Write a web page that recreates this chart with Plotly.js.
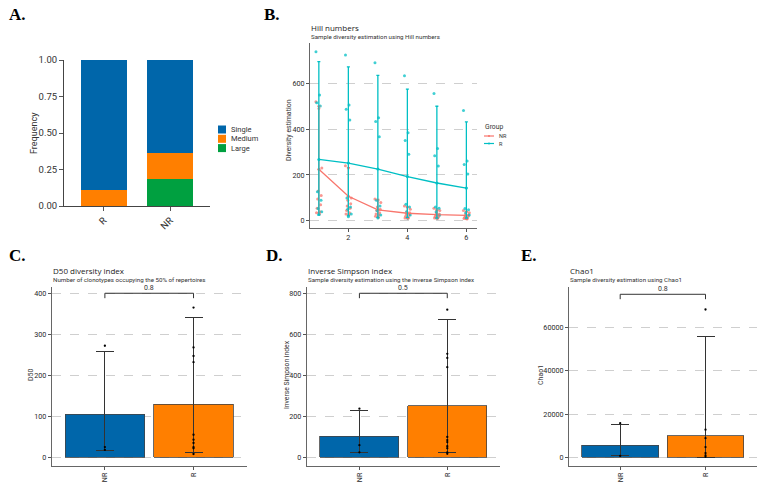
<!DOCTYPE html>
<html><head><meta charset="utf-8">
<script src="https://cdn.plot.ly/plotly-3.0.1.min.js"></script>
<style>html,body{margin:0;padding:0;background:#fff}#chart{width:766px;height:483px}</style>
</head><body><div id="chart"></div>
<script>
// ---- Panel A: clonal space frequencies ----
const stackCats = ['R', 'NR'];
const singleFreq = [0.889, 0.636];
const mediumFreq = [0.111, 0.182];
const largeFreq = [0, 0.182];

// ---- Panel B: Hill numbers ----
const hillOrder = [1, 2, 3, 4, 5, 6];
const rMean = [268, 252, 226, 193, 165, 143];
const rUpper = [695, 672, 635, 575, 500, 432];
const rLower = [25, 22, 15, 15, 12, 12];
const nrMean = [225, 107, 48, 33, 27, 24];
const nrUpper = [500, 232, 93, 60, 45, 40];
const nrLower = [35, 25, 15, 12, 10, 8];
const rPoints = [
  [738, 549, 515, 501, 127, 90, 54, 40, 29],
  [724, 505, 487, 440, 100, 60, 50, 30, 18],
  [690, 450, 433, 367, 90, 65, 45, 25, 12],
  [633, 384, 350, 291, 72, 60, 40, 25, 12],
  [556, 316, 284, 239, 60, 55, 40, 25, 12],
  [481, 261, 246, 204, 54, 48, 35, 25, 12]
];
const nrPoints = [
  [520, 490, 230, 130, 110, 95, 70, 55, 40, 35, 30],
  [240, 230, 100, 90, 75, 65, 55, 45, 35, 30, 25],
  [95, 90, 80, 60, 50, 45, 35, 30, 25, 20, 15],
  [65, 60, 50, 40, 35, 30, 25, 20, 15, 12, 10],
  [55, 50, 45, 35, 30, 25, 20, 18, 15, 12, 10],
  [45, 40, 35, 30, 25, 22, 20, 15, 12, 10, 8]
];

// ---- Panels C, D, E: group bars ----
const groups = ['NR', 'R'];
const d50Mean = [105, 129];
const d50Upper = [258, 341];
const d50Lower = [17, 12];
const d50NR = [272, 25, 18];
const d50R = [365, 268, 247, 232, 55, 43, 35, 25, 22, 8];

const invSimpMean = [104, 251];
const invSimpUpper = [228, 671];
const invSimpLower = [25, 22];
const invSimpNR = [238, 60, 25];
const invSimpR = [720, 505, 485, 440, 100, 85, 75, 55, 45, 25, 18];

const chaoMean = [5600, 9900];
const chaoUpper = [15100, 55800];
const chaoLower = [700, 200];
const chaoNR = [15800, 700];
const chaoR = [68200, 12800, 8900, 4800, 2000, 1000, 300];

const pValues = ['0.8', '0.5', '0.8'];
const bracketY = [400, 800, 75200];

// ---- styles ----
const BLUE = '#0066AA', ORANGE = '#FF7F00', GREEN = '#00A040';
const CYAN = '#00BFC4', SALMON = '#F8766D';
const F = 'Roboto, "DejaVu Sans", sans-serif';
const W = 766, H = 483;
const px = v => v / W, py = v => 1 - v / H;

const traces = [];
// Panel A stacked bars
const stackA = [
  {name: 'Large', y: largeFreq, color: GREEN},
  {name: 'Medium', y: mediumFreq, color: ORANGE},
  {name: 'Single', y: singleFreq, color: BLUE}
];
stackA.forEach(s => traces.push({type: 'bar', x: stackCats, y: s.y, name: s.name, marker: {color: s.color}, width: 0.7, xaxis: 'x', yaxis: 'y', showlegend: false}));

// Panel B
function jit(i, n) { return ((i * 5) % n - (n - 1) / 2) * (0.22 / n); }
function pointTrace(pts, color) {
  const xs = [], ys = [];
  pts.forEach((arr, k) => arr.forEach((v, i) => { xs.push(hillOrder[k] + jit(i, arr.length)); ys.push(v); }));
  return {type: 'scatter', mode: 'markers', x: xs, y: ys, marker: {color: color, size: 3, opacity: 0.75}, showlegend: false, xaxis: 'x2', yaxis: 'y2', hoverinfo: 'skip'};
}
traces.push(pointTrace(nrPoints, SALMON));
traces.push(pointTrace(rPoints, CYAN));
const groupB = [
  {name: 'NR', mean: nrMean, up: nrUpper, lo: nrLower, color: SALMON},
  {name: 'R', mean: rMean, up: rUpper, lo: rLower, color: CYAN}
];
groupB.forEach(g => traces.push({type: 'scatter', mode: 'lines+markers', x: hillOrder, y: g.mean, name: g.name,
  line: {color: g.color, width: 1.3}, marker: {color: g.color, size: 3},
  error_y: {type: 'data', symmetric: false, array: g.up.map((u, i) => u - g.mean[i]), arrayminus: g.mean.map((m, i) => m - g.lo[i]), color: g.color, thickness: 1.3, width: 1.5},
  xaxis: 'x2', yaxis: 'y2', showlegend: false}));

// Panels C, D, E
const panels = [
  {ax: '3', mean: d50Mean, up: d50Upper, lo: d50Lower, nr: d50NR, r: d50R},
  {ax: '4', mean: invSimpMean, up: invSimpUpper, lo: invSimpLower, nr: invSimpNR, r: invSimpR},
  {ax: '5', mean: chaoMean, up: chaoUpper, lo: chaoLower, nr: chaoNR, r: chaoR}
];
const dropFrac = 0.03;
panels.forEach((p, k) => {
  traces.push({type: 'bar', x: groups, y: p.mean, width: 0.9,
    marker: {color: [BLUE, ORANGE], line: {color: '#444', width: 0.8}},
    error_y: {type: 'data', symmetric: false, array: p.up.map((u, i) => u - p.mean[i]), arrayminus: p.mean.map((m, i) => m - p.lo[i]), color: '#333', thickness: 1, width: 9},
    showlegend: false, xaxis: 'x' + p.ax, yaxis: 'y' + p.ax});
  const xs = p.nr.map(() => groups[0]).concat(p.r.map(() => groups[1]));
  traces.push({type: 'scatter', mode: 'markers', x: xs, y: p.nr.concat(p.r), marker: {color: '#000', size: 2.3},
    showlegend: false, xaxis: 'x' + p.ax, yaxis: 'y' + p.ax});
  const d = bracketY[k] * dropFrac;
  traces.push({type: 'scatter', mode: 'lines', x: [groups[0], groups[0], groups[1], groups[1]],
    y: [bracketY[k] - d, bracketY[k], bracketY[k], bracketY[k] - d], line: {color: '#333', width: 1},
    showlegend: false, xaxis: 'x' + p.ax, yaxis: 'y' + p.ax, hoverinfo: 'skip'});
});

const gg = {showline: true, linecolor: '#666', linewidth: 1, ticks: 'outside', ticklen: 3, tickcolor: '#555',
  tickfont: {family: F, size: 7.2, color: '#2a2a2a'}, zeroline: false, showgrid: false, fixedrange: true};
const ggY = Object.assign({}, gg, {showgrid: true, gridcolor: '#cfcfcf', griddash: 'dash', gridwidth: 1, tickformat: 'd'});
const catX = Object.assign({}, gg, {type: 'category', tickangle: -90, range: [-0.6, 1.6]});
const yDom = [py(465.7), py(286.7)];

const layout = {
  width: W, height: H, margin: {l: 0, r: 0, t: 0, b: 0}, paper_bgcolor: '#fff', plot_bgcolor: 'rgba(0,0,0,0)',
  barmode: 'stack', showlegend: false,
  font: {family: F, color: '#333'},
  xaxis: Object.assign({}, gg, {type: 'category', domain: [px(64), px(210)], anchor: 'y', range: [-0.6, 1.6], tickangle: -45,
    linecolor: '#444', tickfont: {family: F, size: 9.5, color: '#333'}, ticklen: 4}),
  yaxis: Object.assign({}, gg, {domain: [py(206), py(60)], anchor: 'x', range: [0, 1], tickvals: [0, 0.25, 0.5, 0.75, 1], tickformat: '.2f',
    linecolor: '#444', tickfont: {family: F, size: 9.5, color: '#333'}, ticklen: 4}),
  xaxis2: Object.assign({}, gg, {domain: [px(310), px(477)], anchor: 'y2', range: [0.70, 6.36], tickvals: [2, 4, 6]}),
  yaxis2: Object.assign({}, ggY, {domain: [py(227.7), py(43)], anchor: 'x2', range: [-30, 776], tickvals: [0, 200, 400, 600]}),
  xaxis3: Object.assign({}, catX, {domain: [px(51.7), px(246.7)], anchor: 'y3'}),
  yaxis3: Object.assign({}, ggY, {domain: yDom, anchor: 'x3', range: [-20.5, 416], tickvals: [0, 100, 200, 300, 400]}),
  xaxis4: Object.assign({}, catX, {domain: [px(306.7), px(500)], anchor: 'y4'}),
  yaxis4: Object.assign({}, ggY, {domain: yDom, anchor: 'x4', range: [-40, 832], tickvals: [0, 200, 400, 600, 800]}),
  xaxis5: Object.assign({}, catX, {domain: [px(569), px(756.7)], anchor: 'y5'}),
  yaxis5: Object.assign({}, ggY, {domain: yDom, anchor: 'x5', range: [-3800, 78700], tickvals: [0, 20000, 40000, 60000]}),
  annotations: [], shapes: []
};

const A = layout.annotations, S = layout.shapes;
// Legend A (Single, Medium, Large top-down)
stackA.slice().reverse().forEach((s, i) => {
  const cy = 129.5 + i * 9.3;
  S.push({type: 'rect', xref: 'paper', yref: 'paper', x0: px(218), x1: px(226), y0: py(cy + 4), y1: py(cy - 4), fillcolor: s.color, line: {width: 0}});
  A.push({text: s.name, x: px(229), y: py(cy), xref: 'paper', yref: 'paper', xanchor: 'left', yanchor: 'middle', showarrow: false, font: {family: F, size: 7.5, color: '#333'}});
});
// Legend B
A.push({text: 'Group', x: px(483), y: py(127), xref: 'paper', yref: 'paper', xanchor: 'left', yanchor: 'middle', showarrow: false, font: {family: F, size: 6.8, color: '#333'}});
groupB.forEach((g, i) => {
  const cy = 136 + i * 7.5;
  S.push({type: 'line', xref: 'paper', yref: 'paper', x0: px(484), x1: px(494), y0: py(cy), y1: py(cy), line: {color: g.color, width: 1.2}});
  S.push({type: 'circle', xref: 'paper', yref: 'paper', x0: px(488), x1: px(490), y0: py(cy + 1), y1: py(cy - 1), fillcolor: g.color, line: {width: 0}});
  A.push({text: g.name, x: px(497), y: py(cy), xref: 'paper', yref: 'paper', xanchor: 'left', yanchor: 'middle', showarrow: false, font: {family: F, size: 5.5, color: '#333'}});
});

const serif = {family: '"Liberation Serif", "Times New Roman", serif', size: 17, color: '#000'};
[['A.', 7, 15], ['B.', 262, 15], ['C.', 7, 255], ['D.', 264, 255], ['E.', 519, 255]].forEach(([t, x, y]) =>
  A.push({text: '<b>' + t + '</b>', x: px(x), y: py(y), xref: 'paper', yref: 'paper', xanchor: 'left', yanchor: 'middle', showarrow: false, font: serif}));
const tf = {family: '"Open Sans", Roboto, sans-serif', size: 8, color: '#1a1a1a'}, sf = {family: F, size: 6.2, color: '#333333'};
[['Hill numbers', 'Sample diversity estimation using Hill numbers', 309, 27.5, 37.5],
 ['D50 diversity index', 'Number of clonotypes occupying the 50% of repertoires', 51, 270.5, 279.5],
 ['Inverse Simpson index', 'Sample diversity estimation using the inverse Simpson index', 306, 270.5, 279.5],
 ['Chao1', 'Sample diversity estimation using Chao1', 568, 270.5, 279.5]].forEach(([t, s, x, y1, y2]) => {
  A.push({text: t, x: px(x), y: py(y1), xref: 'paper', yref: 'paper', xanchor: 'left', yanchor: 'middle', showarrow: false, font: tf});
  A.push({text: s, x: px(x), y: py(y2), xref: 'paper', yref: 'paper', xanchor: 'left', yanchor: 'middle', showarrow: false, font: sf});
});
[['Frequency', 34, 133, 9], ['Diversity estimation', 289, 130, 7], ['D50', 31, 375, 7], ['Inverse Simpson index', 287, 375, 6.8], ['Chao1', 541, 375, 7]].forEach(([t, x, y, s]) =>
  A.push({text: t, x: px(x), y: py(y), xref: 'paper', yref: 'paper', xanchor: 'center', yanchor: 'middle', textangle: -90, showarrow: false, font: {family: F, size: s, color: '#333'}}));
panels.forEach((p, k) => A.push({text: pValues[k], x: 0.5, y: bracketY[k], xref: 'x' + p.ax, yref: 'y' + p.ax, yanchor: 'bottom', showarrow: false,
  yshift: -1, font: {family: F, size: 7, color: '#333'}}));

Plotly.newPlot('chart', traces, layout, {staticPlot: true, displayModeBar: false});
</script></body></html>
